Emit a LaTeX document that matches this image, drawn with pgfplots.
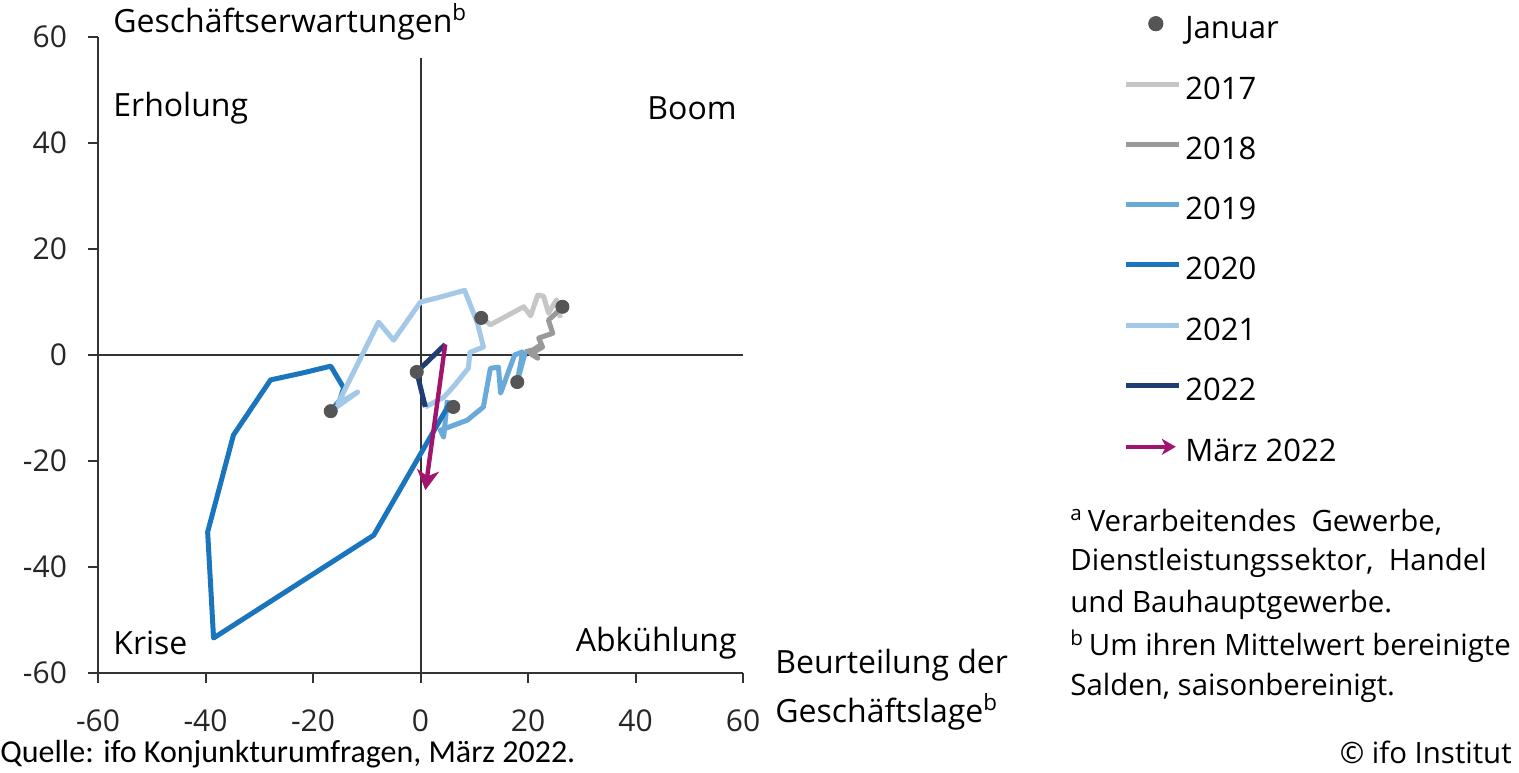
\documentclass[border=0pt]{standalone}
\usepackage{fontspec}
\setmainfont{Open Sans}
\newfontfamily\cond{Carlito}
\usepackage{pgfplots}
\pgfplotsset{compat=1.18}
\usetikzlibrary{arrows.meta}
\definecolor{cA}{HTML}{C6C6C6}
\definecolor{cB}{HTML}{999999}
\definecolor{cC}{HTML}{6AAAD8}
\definecolor{cD}{HTML}{1B75BC}
\definecolor{cE}{HTML}{A3C8E8}
\definecolor{cF}{HTML}{1F3C75}
\definecolor{cM}{HTML}{A0166E}
\definecolor{cDot}{HTML}{555555}
\definecolor{axg}{HTML}{333333}
\pgfplotsset{
  lineleg/.style={legend image code/.code={\draw[##1] (0pt,3.5pt) -- (26.5pt,3.5pt);}},
  arrowleg/.style={legend image code/.code={\draw[##1,-{Stealth[length=7pt,width=8pt,inset=2pt]}] (0pt,3.5pt) -- (25pt,3.5pt);}},
  dotleg/.style={legend image code/.code={\fill[cDot] (15pt,3.5pt) circle (3.6pt);}},
}
\newcommand\fq{\fontsize{16}{19}\selectfont}
\newcommand\fn{\fontsize{14.7}{17}\selectfont}
\begin{document}
\begin{tikzpicture}
\useasboundingbox (0,0) rectangle (759.5pt,386pt);
\begin{axis}[
  at={(49pt,49.5pt)}, anchor=south west,
  width=322.5pt, height=318pt, scale only axis,
  xmin=-60, xmax=60, ymin=-60, ymax=60,
  axis x line*=bottom, axis y line*=left,
  axis line style={-, line width=1pt, color=axg},
  xtick={-60,-40,...,60}, ytick={-60,-40,...,60},
  tick align=outside, major tick length=5pt,
  tick style={line width=1pt, color=axg},
  ticklabel style={font=\fontsize{15}{18}\selectfont, text=black!85},
  xticklabel style={yshift=-10pt},
  yticklabel style={xshift=-7pt},
  /pgf/number format/assume math mode=true,
  clip=false,
  legend cell align=left,
  legend style={at={(1.589,1.0335)}, anchor=north west, draw=none, fill=none,
    font=\fontsize{15.5}{18}\selectfont, row sep=16.15pt, column sep=2pt, inner sep=0pt,
    nodes={inner sep=0pt, text height=11pt, text depth=3pt}},
]
% legend
\addlegendimage{dotleg}
\addlegendentry{Januar}
\addlegendimage{lineleg, cA, line width=2.5pt}
\addlegendentry{2017}
\addlegendimage{lineleg, cB, line width=2.5pt}
\addlegendentry{2018}
\addlegendimage{lineleg, cC, line width=2.5pt}
\addlegendentry{2019}
\addlegendimage{lineleg, cD, line width=2.5pt}
\addlegendentry{2020}
\addlegendimage{lineleg, cE, line width=2.5pt}
\addlegendentry{2021}
\addlegendimage{lineleg, cF, line width=2.5pt}
\addlegendentry{2022}
\addlegendimage{arrowleg, cM, line width=2pt}
\addlegendentry{März 2022}
% cross lines
\addplot[forget plot, axg, line width=1pt] coordinates {(-60,0) (60,0)};
\addplot[forget plot, axg, line width=1pt] coordinates {(0,-60) (0,56)};
% 2017
\addplot[forget plot, cA, line width=2.5pt, line join=round] coordinates {
(11.5,7.0) (13.0,5.7) (19.2,9.1) (20.5,7.4) (21.8,11.3) (22.9,11.1) (23.8,7.9) (25.3,10.4) (26.0,7.0)};
% 2018
\addplot[forget plot, cB, line width=2.5pt, line join=round] coordinates {
(26.4,9.1) (24.8,7.5) (23.8,6.6) (24.6,4.1) (22.0,3.2) (22.7,1.5) (20.5,0.2) (21.8,-0.6) (20.8,0.8) (22.5,2.0) (21.0,1.0) (19.5,0.6)};
% 2019
\addplot[forget plot, cC, line width=2.5pt, line join=round] coordinates {
(19.5,0.6) (18.0,-5.1) (19.0,0.6) (17.5,0.0) (14.9,-7.2) (14.5,-2.3) (13.0,-2.5) (11.7,-9.8) (8.7,-12.3) (3.7,-14.2) (4.3,-15.5) (5.0,-8.5)};
% 2020
\addplot[forget plot, cD, line width=2.5pt, line join=round] coordinates {
(5.5,-9.0) (-8.7,-34.0) (-38.5,-53.4) (-39.6,-33.4) (-34.8,-15.1) (-27.9,-4.7) (-22.0,-3.4) (-16.7,-2.1) (-14.3,-6.2) (-15.0,-8.5) (-16.7,-10.6)};
% 2021
\addplot[forget plot, cE, line width=2.5pt, line join=round] coordinates {
(-16.7,-10.6) (-11.7,-7.0) (-15.4,-9.2) (-7.8,6.2) (-5.0,2.8) (0.0,10.0) (3.2,10.8) (8.2,12.2) (10.6,6.0) (11.7,1.5) (9.2,0.5) (8.9,-2.5) (6.1,-6.0) (4.3,-8.0) (0.9,-9.8)};
% 2022
\addplot[forget plot, cF, line width=2.5pt, line join=round] coordinates {
(0.9,-9.8) (-0.7,-3.2) (4.6,2.0)};
% Januar dots
\addplot[forget plot, only marks, mark=*, mark size=3.3pt, cDot, mark options={draw=cDot, fill=cDot}] coordinates {
(11.3,7.0) (26.4,9.1) (18.0,-5.1) (6.1,-9.8) (-16.7,-10.6) (-0.7,-3.2)};
% März 2022
\addplot[forget plot, cM, line width=2.2pt, -{Stealth[length=10pt,width=11pt,inset=3pt]}] coordinates {(4.6,2.0) (0.9,-25.5)};
\end{axis}
% texts
\node[anchor=west, font=\fq, inner sep=0pt] at (56.5pt,375pt) {Geschäftserwartungen\textsuperscript{b}};
\node[anchor=west, font=\fq, inner sep=0pt] at (56.5pt,332pt) {Erholung};
\node[anchor=east, font=\fq, inner sep=0pt] at (368.5pt,332pt) {Boom};
\node[anchor=west, font=\fq, inner sep=0pt] at (56.5pt,64.5pt) {Krise};
\node[anchor=east, font=\fq, inner sep=0pt] at (368.5pt,64.5pt) {Abkühlung};
\node[anchor=west, font=\fq, inner sep=0pt] at (387.5pt,53.5pt) {Beurteilung der};
\node[anchor=west, font=\fq, inner sep=0pt] at (387.5pt,30pt) {Geschäftslage\textsuperscript{b}};
\node[anchor=west, font=\cond\fontsize{16}{19}\selectfont, inner sep=0pt] at (0pt,9pt) {Quelle: ifo Konjunkturumfragen, März 2022.};
\node[anchor=east, font=\fn, inner sep=0pt] at (756pt,10pt) {© ifo Institut};
\node[anchor=west, font=\fn, inner sep=0pt] at (535pt,125pt) {\textsuperscript{a}\,Verarbeitendes\ \ Gewerbe,};
\node[anchor=west, font=\fn, inner sep=0pt] at (535pt,104.5pt) {Dienstleistungssektor,\ \ Handel};
\node[anchor=west, font=\fn, inner sep=0pt] at (535pt,83.5pt) {und Bauhauptgewerbe.};
\node[anchor=west, font=\fn, inner sep=0pt] at (535pt,63pt) {\textsuperscript{b}\,Um ihren Mittelwert\ bereinigte};
\node[anchor=west, font=\fn, inner sep=0pt] at (535pt,42pt) {Salden, saisonbereinigt.};
\end{tikzpicture}
\end{document}
